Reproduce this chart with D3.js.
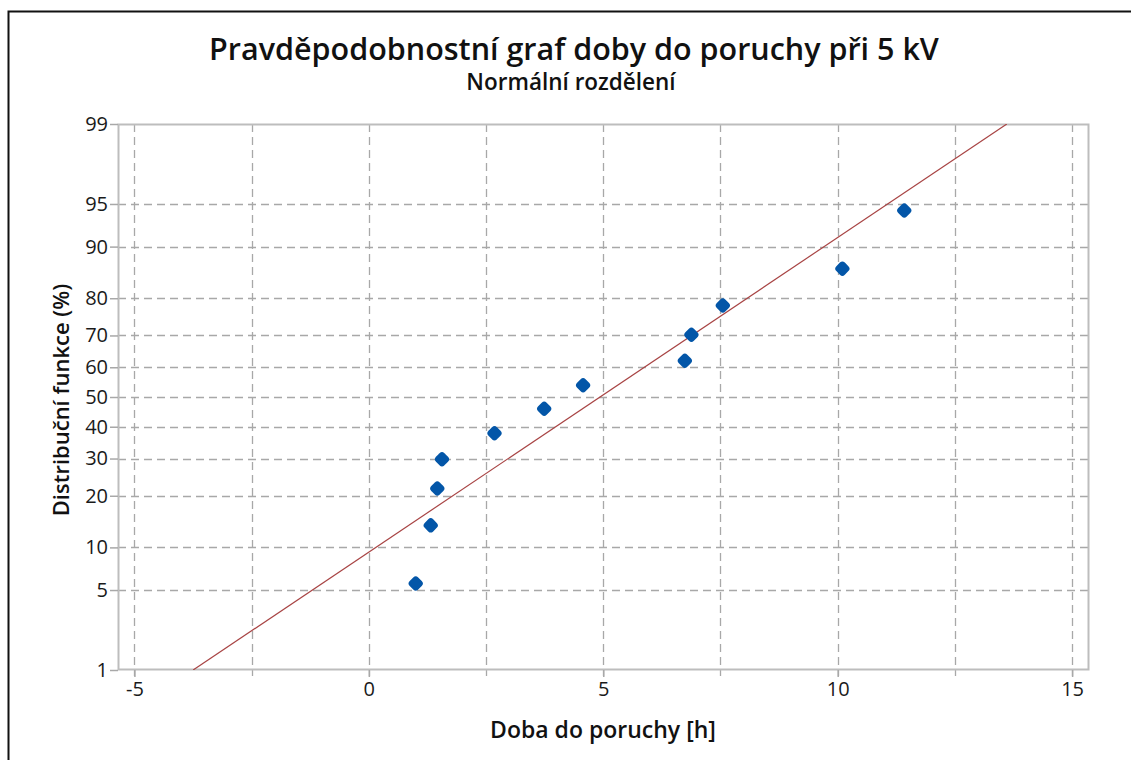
<!DOCTYPE html>
<html>
<head>
<meta charset="utf-8">
<script src="https://cdn.jsdelivr.net/npm/d3@7/dist/d3.min.js"></script>
<style>
  html, body { margin: 0; padding: 0; background: #fff; }
  svg { display: block; font-family: "Open Sans", "Noto Sans", sans-serif; }
</style>
</head>
<body>
<svg id="chart" width="1131" height="760"></svg>
<script>
// Time to failure [h] of the test specimens at 5 kV (sorted)
const failureTimes = [1.00, 1.32, 1.46, 1.56, 2.68, 3.74, 4.57, 6.74, 6.88, 7.55, 10.10, 11.42];
// Median-rank cumulative probability (%) for each specimen
const cumulativePct = [5.6, 13.7, 21.8, 29.8, 37.9, 46.0, 54.0, 62.1, 70.2, 78.2, 86.3, 94.4];
// Fitted normal distribution parameters
const fitMean = 4.93;
const fitSigma = 3.73;
// Axis ticks
const xTicks = [-5, 0, 5, 10, 15];
const xGrid = [-5, -2.5, 0, 2.5, 5, 7.5, 10, 12.5, 15];
const yTicks = [1, 5, 10, 20, 30, 40, 50, 60, 70, 80, 90, 95, 99];

// Inverse standard normal CDF (Acklam's rational approximation)
function probit(p) {
  const a = [-3.969683028665376e+01, 2.209460984245205e+02, -2.759285104469687e+02,
             1.383577518672690e+02, -3.066479806614716e+01, 2.506628277459239e+00];
  const b = [-5.447609879822406e+01, 1.615858368580409e+02, -1.556989798598866e+02,
             6.680131188771972e+01, -1.328068155288572e+01];
  const c = [-7.784894002430293e-03, -3.223964580411365e-01, -2.400758277161838e+00,
             -2.549732539343734e+00, 4.374664141464968e+00, 2.938163982698783e+00];
  const d = [7.784695709041462e-03, 3.224671290700398e-01, 2.445134137142996e+00,
             3.754408661907416e+00];
  const pl = 0.02425, ph = 1 - pl;
  let q, r;
  if (p < pl) {
    q = Math.sqrt(-2 * Math.log(p));
    return (((((c[0]*q + c[1])*q + c[2])*q + c[3])*q + c[4])*q + c[5]) /
           ((((d[0]*q + d[1])*q + d[2])*q + d[3])*q + 1);
  } else if (p <= ph) {
    q = p - 0.5; r = q * q;
    return (((((a[0]*r + a[1])*r + a[2])*r + a[3])*r + a[4])*r + a[5]) * q /
           (((((b[0]*r + b[1])*r + b[2])*r + b[3])*r + b[4])*r + 1);
  } else {
    q = Math.sqrt(-2 * Math.log(1 - p));
    return -(((((c[0]*q + c[1])*q + c[2])*q + c[3])*q + c[4])*q + c[5]) /
            ((((d[0]*q + d[1])*q + d[2])*q + d[3])*q + 1);
  }
}

const svg = d3.select("#chart");
const plot = { left: 118, top: 124, right: 1089, bottom: 670 };

const x = d3.scaleLinear().domain([-5.35, 15.36]).range([plot.left, plot.right]);
// Probability axis: linear in the standard normal quantile
const z = d3.scaleLinear().domain([probit(0.01), probit(0.99)]).range([plot.bottom, plot.top]);
const yPos = pct => z(probit(pct / 100));

// Outer frame
svg.append("path")
  .attr("d", "M8.5,760 L8.5,11.5 L1131,11.5")
  .attr("fill", "none").attr("stroke", "#111").attr("stroke-width", 2);

// Grid
const grid = svg.append("g").attr("stroke", "#a8a8a8").attr("stroke-width", 1.3)
  .attr("stroke-dasharray", "8,5").attr("fill", "none");
grid.selectAll("line.v").data(xGrid).join("line").attr("class", "v")
  .attr("x1", d => Math.round(x(d)) + 0.5).attr("x2", d => Math.round(x(d)) + 0.5)
  .attr("y1", plot.top).attr("y2", plot.bottom + 6);
grid.selectAll("line.h").data(yTicks.filter(t => t > 1 && t < 99)).join("line").attr("class", "h")
  .attr("y1", d => Math.round(yPos(d)) + 0.5).attr("y2", d => Math.round(yPos(d)) + 0.5)
  .attr("x1", plot.left).attr("x2", plot.right);

// Plot frame
svg.append("rect")
  .attr("x", plot.left + 0.5).attr("y", plot.top + 0.5)
  .attr("width", plot.right - plot.left - 1).attr("height", plot.bottom - plot.top - 1)
  .attr("fill", "none").attr("stroke", "#bdbdbd").attr("stroke-width", 2);

// Axes
const xAxis = svg.append("g").attr("transform", `translate(0,${plot.bottom})`)
  .call(d3.axisBottom(x).tickValues(xTicks).tickSize(7).tickPadding(5)
    .tickFormat(d => d < 0 ? "-" + Math.abs(d) : d));
const yAxis = svg.append("g").attr("transform", `translate(${plot.left},0)`)
  .call(d3.axisLeft(z).tickValues(yTicks.map(t => probit(t / 100))).tickSize(8).tickPadding(2)
    .tickFormat((d, i) => yTicks[i]));
[xAxis, yAxis].forEach(g => {
  g.attr("font-size", null).attr("font-family", null);
  g.select(".domain").remove();
  g.selectAll(".tick line").attr("stroke", "#a8a8a8").attr("stroke-width", 1.5);
  g.selectAll(".tick text").attr("fill", "#1a1a1a").style("font-size", "20px");
});

// Fitted distribution line
svg.append("clipPath").attr("id", "plotClip").append("rect")
  .attr("x", plot.left).attr("y", plot.top)
  .attr("width", plot.right - plot.left).attr("height", plot.bottom - plot.top);
const fitPct = [1, 99];
svg.append("line")
  .attr("clip-path", "url(#plotClip)")
  .attr("x1", x(fitMean + fitSigma * probit(fitPct[0] / 100))).attr("y1", yPos(fitPct[0]))
  .attr("x2", x(fitMean + fitSigma * probit(fitPct[1] / 100))).attr("y2", yPos(fitPct[1]))
  .attr("stroke", "#a84444").attr("stroke-width", 1.2);

// Data points: rounded diamonds
const pts = failureTimes.map((t, i) => ({ t, p: cumulativePct[i] }));
svg.append("g").selectAll("rect").data(pts).join("rect")
  .attr("x", -6).attr("y", -6).attr("width", 12).attr("height", 12)
  .attr("rx", 3.5).attr("ry", 3.5)
  .attr("fill", "#0356a8")
  .attr("transform", d => `translate(${x(d.t)},${yPos(d.p)}) rotate(45)`);

// Titles
svg.append("text").attr("x", 574).attr("y", 60).attr("text-anchor", "middle")
  .style("font-size", "30.5px").style("font-weight", 600).attr("fill", "#111")
  .text("Pravděpodobnostní graf doby do poruchy při 5 kV");
svg.append("text").attr("x", 571).attr("y", 90).attr("text-anchor", "middle")
  .style("font-size", "22.5px").style("font-weight", 600).attr("fill", "#111")
  .text("Normální rozdělení");
svg.append("text").attr("x", 603).attr("y", 738).attr("text-anchor", "middle")
  .style("font-size", "23px").style("font-weight", 600).attr("fill", "#111")
  .text("Doba do poruchy [h]");
svg.append("text").attr("transform", "translate(69,400) rotate(-90)").attr("text-anchor", "middle")
  .style("font-size", "22px").style("font-weight", 600).attr("fill", "#111")
  .text("Distribuční funkce (%)");
</script>
</body>
</html>
